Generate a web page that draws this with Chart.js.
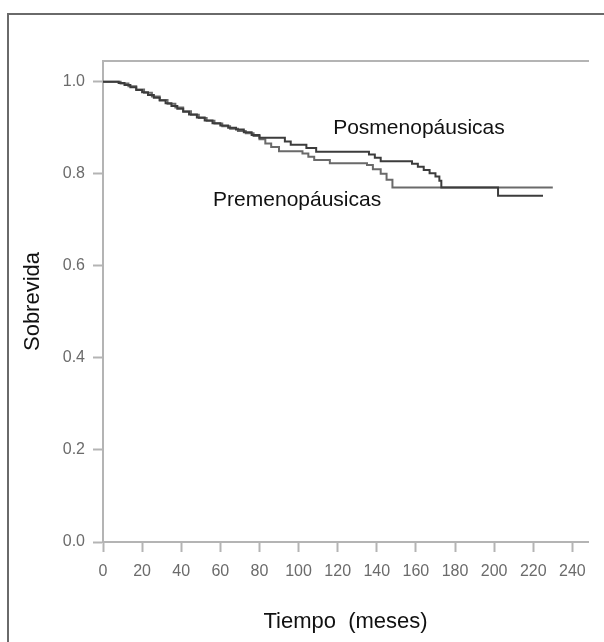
<!DOCTYPE html>
<html lang="es">
<head>
<meta charset="utf-8">
<title>Sobrevida por estado menopáusico</title>
<script src="https://cdn.jsdelivr.net/npm/chart.js@4.4.1/dist/chart.umd.min.js"></script>
<style>
  html, body { margin: 0; padding: 0; background: #fff; }
  #marco {
    position: absolute; left: 7px; top: 13px; width: 640px; height: 660px;
    border-left: 2px solid #6a6a6a; border-top: 2px solid #6a6a6a;
  }
  #grafico { position: absolute; left: 0; top: 0; }
</style>
</head>
<body>
<div id="marco"></div>
<canvas id="grafico" width="604" height="642"></canvas>
<script>
// Curvas de Kaplan-Meier (meses, proporción sobreviviente)
const tiempoPos = [0, 8, 11, 14, 17, 20, 23, 26, 29, 32, 35, 38, 41, 44, 48, 52, 56, 60, 64, 68, 72, 76, 80, 93, 96, 104, 109, 136, 139, 142, 158, 161, 164, 167, 170, 172, 173, 202, 225];
const sobrevidaPos = [1.0, 0.997, 0.993, 0.988, 0.982, 0.977, 0.971, 0.965, 0.959, 0.953, 0.947, 0.941, 0.935, 0.929, 0.922, 0.916, 0.91, 0.905, 0.9, 0.896, 0.89, 0.884, 0.878, 0.87, 0.863, 0.856, 0.848, 0.842, 0.835, 0.827, 0.822, 0.815, 0.808, 0.801, 0.794, 0.785, 0.77, 0.752, 0.752];

const tiempoPre = [0, 9, 13, 17, 21, 25, 29, 33, 37, 41, 45, 49, 53, 57, 61, 65, 69, 73, 77, 80, 83, 86, 90, 102, 105, 108, 116, 135, 138, 142, 145, 148, 230];
const sobrevidaPre = [1.0, 0.996, 0.99, 0.983, 0.976, 0.968, 0.96, 0.952, 0.944, 0.936, 0.928, 0.921, 0.915, 0.909, 0.903, 0.898, 0.893, 0.888, 0.882, 0.875, 0.866, 0.858, 0.849, 0.844, 0.837, 0.83, 0.823, 0.819, 0.81, 0.8, 0.787, 0.77, 0.77];

const grupos = ['Posmenopáusicas', 'Premenopáusicas'];
// punto de anclaje de cada rótulo (mes, sobrevida)
const rotuloX = [117.7, 56.3];
const rotuloY = [0.887, 0.73];

const fuente = '"Liberation Sans", Arial, Helvetica, sans-serif';
const gris = '#b4b4b4';

const puntos = (t, s) => t.map((v, i) => ({ x: v, y: s[i] }));

// rótulos de cada curva, escritos en coordenadas de datos
const rotulos = {
  id: 'rotulos',
  afterDatasetsDraw(chart) {
    const { ctx, scales: { x, y } } = chart;
    ctx.save();
    ctx.font = '21px ' + fuente;
    ctx.fillStyle = '#111';
    ctx.textAlign = 'left';
    ctx.textBaseline = 'alphabetic';
    grupos.forEach((g, i) => {
      ctx.fillText(g, x.getPixelForValue(rotuloX[i]), y.getPixelForValue(rotuloY[i]));
    });
    ctx.restore();
  }
};

new Chart(document.getElementById('grafico'), {
  type: 'line',
  data: {
    datasets: [
      {
        label: grupos[0],
        data: puntos(tiempoPos, sobrevidaPos),
        borderColor: '#3c3c3c',
        borderWidth: 2,
        stepped: 'before',
        pointRadius: 0,
        fill: false
      },
      {
        label: grupos[1],
        data: puntos(tiempoPre, sobrevidaPre),
        borderColor: '#6a6a6a',
        borderWidth: 2,
        stepped: 'before',
        pointRadius: 0,
        fill: false
      }
    ]
  },
  options: {
    responsive: false,
    animation: false,
    layout: { padding: { top: 61, right: 16, left: 0, bottom: 0 } },
    plugins: {
      legend: { display: false },
      tooltip: { enabled: false }
    },
    scales: {
      x: {
        type: 'linear',
        position: 'bottom',
        min: 0,
        max: 248,
        ticks: {
          stepSize: 20,
          includeBounds: false,
          autoSkip: false,
          maxRotation: 0,
          color: '#6b6b6b',
          font: { family: fuente, size: 16 },
          padding: 10
        },
        grid: { drawOnChartArea: false, drawTicks: true, tickLength: 10, tickColor: gris, tickWidth: 2 },
        border: { display: true, color: gris, width: 2 },
        title: {
          display: true,
          text: 'Tiempo  (meses)',
          color: '#111',
          font: { family: fuente, size: 22 },
          padding: { bottom: 7 }
        },
        afterFit: (s) => { s.height = 100; }
      },
      arriba: {
        type: 'linear',
        position: 'top',
        min: 0,
        max: 248,
        ticks: { display: false },
        grid: { display: false },
        border: { display: true, color: gris, width: 2 },
        afterFit: (s) => { s.height = 0; }
      },
      y: {
        min: 0,
        max: 1.045,
        ticks: {
          stepSize: 0.2,
          includeBounds: false,
          color: '#6b6b6b',
          font: { family: fuente, size: 16 },
          padding: 8,
          callback: (v) => v.toFixed(1)
        },
        grid: { drawOnChartArea: false, drawTicks: true, tickLength: 10, tickColor: gris, tickWidth: 2 },
        border: { display: true, color: gris, width: 2 },
        title: {
          display: true,
          text: 'Sobrevida',
          color: '#111',
          font: { family: fuente, size: 22 },
          padding: { top: 20 }
        },
        afterFit: (s) => { s.width = 103; }
      }
    }
  },
  plugins: [rotulos]
});
</script>
</body>
</html>
